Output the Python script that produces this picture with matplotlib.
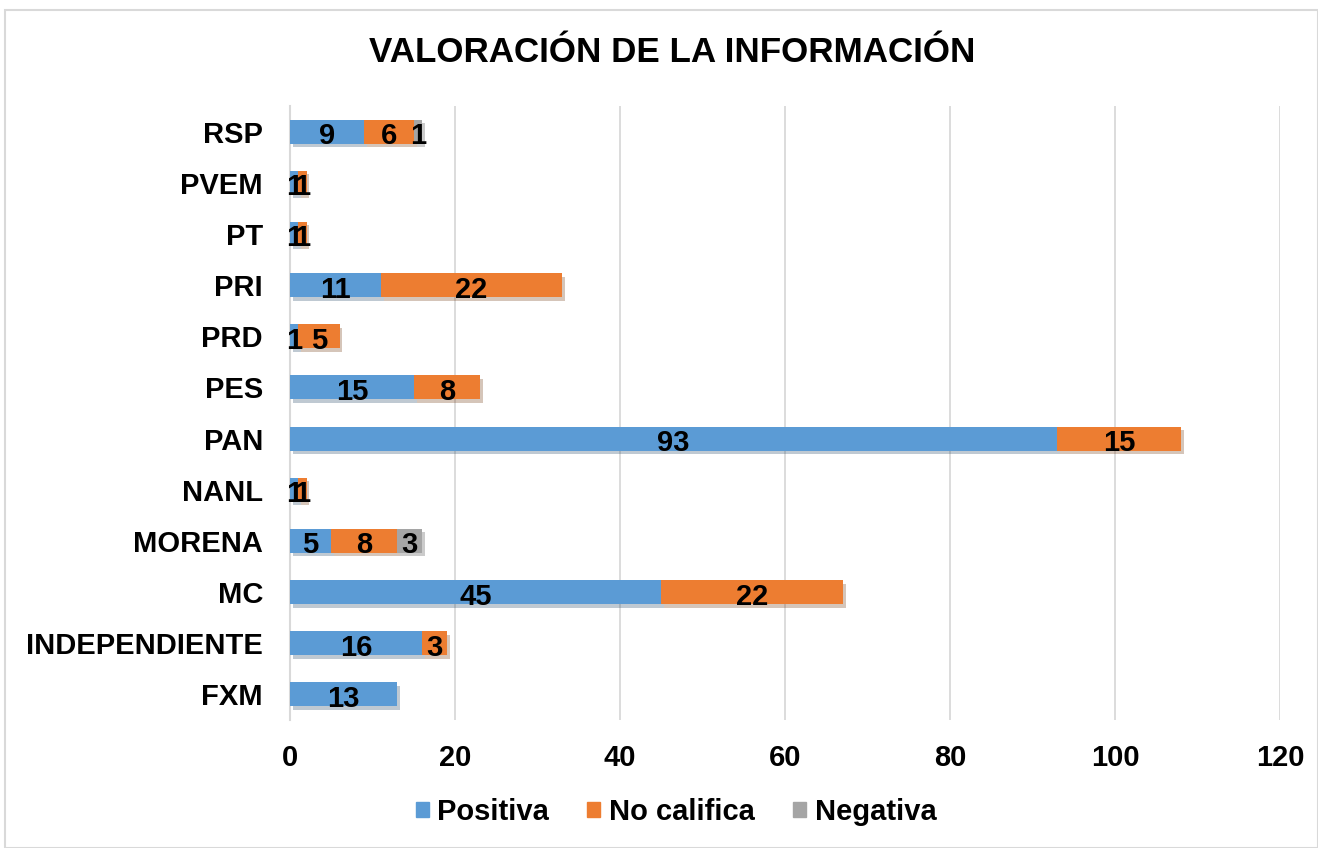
import matplotlib
matplotlib.use("Agg")
import matplotlib.pyplot as plt
import matplotlib.patheffects as pe
from matplotlib.patches import Rectangle
import numpy as np

plt.rcParams['font.family'] = ['Liberation Sans', 'DejaVu Sans']

categories = ["FXM", "INDEPENDIENTE", "MC", "MORENA", "NANL", "PAN", "PES",
              "PRD", "PRI", "PT", "PVEM", "RSP"]
positiva = [13, 16, 45, 5, 1, 93, 15, 1, 11, 1, 1, 9]
no_califica = [0, 3, 22, 8, 1, 15, 8, 5, 22, 1, 1, 6]
negativa = [0, 0, 0, 3, 0, 0, 0, 0, 0, 0, 0, 1]
series_names = ["Positiva", "No califica", "Negativa"]
colors = ["#5B9BD5", "#ED7D31", "#A5A5A5"]
x_ticks = [0, 20, 40, 60, 80, 100, 120]

fig = plt.figure(figsize=(13.18, 8.48), dpi=100)
ax = fig.add_axes([290/1318, 1-720/848, (1280-290)/1318, (720-106)/848])

y = np.arange(len(categories))
left = np.zeros(len(categories))
shadow = [pe.SimplePatchShadow(offset=(2, -2.5), alpha=0.3, rho=0.5), pe.Normal()]
for vals, name, col in zip([positiva, no_califica, negativa], series_names, colors):
    vals = np.array(vals, dtype=float)
    bars = ax.barh(y, vals, left=left, height=0.47, color=col, label=name, zorder=3)
    for b in bars:
        b.set_path_effects(shadow)
    for yi, v, l in zip(y, vals, left):
        if v > 0:
            ax.text(l + v/2, yi - 0.03, f"{int(v)}", ha='center', va='center_baseline',
                    fontsize=21, fontweight='bold', color='black', zorder=5)
    left += vals

ax.set_xlim(0, 120)
ax.set_ylim(-0.5, len(categories) - 0.5)
ax.set_xticks(x_ticks)
ax.set_xticklabels([str(t) for t in x_ticks], fontsize=21, fontweight='bold')
ax.set_yticks(y)
ax.set_yticklabels(categories, fontsize=21, fontweight='bold')
ax.tick_params(length=0)
ax.tick_params(axis='x', pad=17)
ax.tick_params(axis='y', pad=19.5)
ax.grid(axis='x', color='#D9D9D9', linewidth=1.3, zorder=0)
for s in ['top', 'right', 'bottom']:
    ax.spines[s].set_visible(False)
ax.spines['left'].set_color('#D9D9D9')
ax.spines['left'].set_linewidth(1.5)
ax.spines['left'].set_zorder(1)

fig.text(672/1318, 1-52/848, "VALORACIÓN DE LA INFORMACIÓN", ha='center', va='center',
         fontsize=25.2, fontweight='bold')

handles = [Rectangle((0, 0), 1, 1, color=c) for c in colors]
leg = fig.legend(handles, series_names, loc='center', bbox_to_anchor=(676/1318, 1-812/848),
                 ncol=3, frameon=False, prop={'size': 21, 'weight': 'bold'},
                 handlelength=0.45, handleheight=0.45, handletextpad=0.3, columnspacing=1.3)

fig.patches.append(Rectangle((5/1318, 0), 1 - 5/1318, 1 - 10/848, transform=fig.transFigure,
                             fill=False, edgecolor='#D9D9D9', linewidth=1.5))

fig.savefig("out.png", dpi=100)
